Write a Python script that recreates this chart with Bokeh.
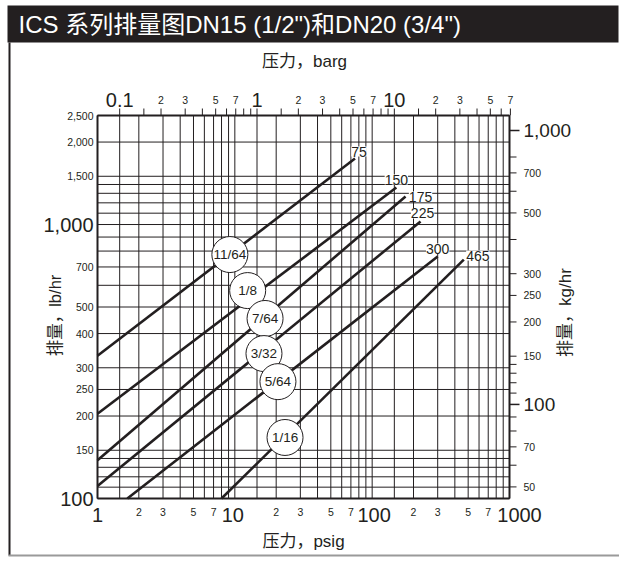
import math
from bokeh.plotting import figure
from bokeh.models import Label, BoxAnnotation, Range1d
from bokeh.embed import file_html
from bokeh.resources import INLINE

# ---------------- texts ----------------
TITLE = 'ICS 系列排量图DN15 (1/2")和DN20 (3/4")'
X_TITLE_TOP = "压力，barg"
X_TITLE_BOTTOM = "压力，psig"
Y_TITLE_LEFT = "排量，lb/hr"
Y_TITLE_RIGHT = "排量，kg/hr"

# ---------------- data ----------------
orifice = ["11/64", "1/8", "7/64", "3/32", "5/64", "1/16"]
max_psig = [75, 150, 175, 225, 300, 465]          # end of each line / label
start_psig = [1, 1, 1, 1, 1.65, 8.0]
start_lbhr = [332, 204, 138, 111, 100, 100]
end_lbhr = [1741, 1365, 1265, 1026, 764, 745]
tag_psig = [9.2, 12.4, 16.6, 16.3, 20.6, 23.2]      # where the orifice tags sit
tag_lbhr = [777, 574, 454, 338, 267, 167]

# axis tick values / labels
psig_label_vals = [1, 2, 3, 5, 7, 10, 20, 30, 50, 70, 100, 200, 300, 500, 700, 1000]
psig_label_txt = ["1", "2", "3", "5", "7", "10", "2", "3", "5", "7", "100", "2", "3", "5", "7", "1000"]
psig_label_big = [True, False, False, False, False, True, False, False, False, False, True,
                  False, False, False, False, True]
barg_label_vals = [0.1, 0.2, 0.3, 0.5, 0.7, 1, 2, 3, 5, 7, 10, 20, 30, 50, 70]
barg_label_txt = ["0.1", "2", "3", "5", "7", "1", "2", "3", "5", "7", "10", "2", "3", "5", "7"]
barg_label_big = [True, False, False, False, False, True, False, False, False, False, True,
                  False, False, False, False]
barg_ticks = [0.1, 0.15, 0.2, 0.3, 0.4, 0.5, 0.6, 0.7, 0.8, 0.9, 1, 1.5, 2, 3, 4, 5, 6, 7, 8, 9,
              10, 15, 20, 30, 40, 50, 60, 70]
lbhr_label_vals = [2500, 2000, 1500, 1000, 700, 500, 400, 300, 250, 200, 150, 100]
lbhr_label_txt = ["2,500", "2,000", "1,500", "1,000", "700", "500", "400", "300", "250", "200", "150", "100"]
lbhr_label_big = [False, False, False, True, False, False, False, False, False, False, False, True]
kghr_label_vals = [1000, 700, 500, 300, 250, 200, 150, 100, 70, 50]
kghr_label_txt = ["1,000", "700", "500", "300", "250", "200", "150", "100", "70", "50"]
kghr_label_big = [True, False, False, False, False, False, False, True, False, False]
kghr_major_ticks = [100, 1000]
kghr_minor_ticks = [50, 60, 70, 80, 90, 110, 120, 130, 140, 150, 200, 250, 300, 400, 500,
                    600, 700, 800]

psig_grid = [1, 2, 3, 4, 5, 6, 7, 8, 9, 10, 20, 30, 40, 50, 60, 70, 80, 90,
             100, 200, 300, 400, 500, 600, 700, 800, 900, 1000]
barg_grid = [0.1, 1, 10]
lbhr_grid = [100, 110, 120, 130, 140, 150, 200, 250, 300, 400, 500, 600, 700, 800, 900,
             1000, 1100, 1200, 1300, 1400, 1500, 2000, 2500]

X_MIN, X_MAX = 1, 1000          # psig
Y_MIN, Y_MAX = 100, 2500        # lb/hr
PSI_PER_BAR = 14.5038
LB_PER_KG = 2.20462

# ---------------- layout / styles ----------------
W, H = 619, 564
PLOT_L, PLOT_R, PLOT_T, PLOT_B = 97, 509, 115, 498     # chart box on the canvas
DEC_X = (PLOT_R - PLOT_L) / math.log10(X_MAX / X_MIN)
DEC_Y = (PLOT_B - PLOT_T) / math.log10(Y_MAX / Y_MIN)
FONT = "Liberation Sans, Noto Sans CJK SC"
INK = "#231f20"
end_dx = [4, 0, 15, 2, 0, 14]
end_dy = [7, 8, 0, 8, 8, 4]
bottom_dx = [0, 0, 0, 0, 0, -2, 0, 0, 0, 0, 2, 0, 0, 0, 0, 10]


def xf(px):   # multiplicative factor for px pixels along x
    return 10 ** (px / DEC_X)


def yf(px):
    return 10 ** (px / DEC_Y)


p = figure(width=W, height=H, x_axis_type="log", y_axis_type="log",
           x_axis_location=None, y_axis_location=None,
           x_range=Range1d(X_MIN / xf(PLOT_L), X_MAX * xf(W - PLOT_R)),
           y_range=Range1d(Y_MIN / yf(H - PLOT_B), Y_MAX * yf(PLOT_T)),
           output_backend="svg", toolbar_location=None,
           min_border=0)
p.background_fill_color = "white"
p.border_fill_color = "white"
p.outline_line_color = None
p.xgrid.visible = False
p.ygrid.visible = False

# grid lines
vx = psig_grid + [b * PSI_PER_BAR for b in barg_grid]
p.segment(x0=vx, y0=[Y_MIN] * len(vx), x1=vx, y1=[Y_MAX] * len(vx),
          line_color=INK, line_width=1)
p.segment(x0=[X_MIN] * len(lbhr_grid), y0=lbhr_grid, x1=[X_MAX] * len(lbhr_grid),
          y1=lbhr_grid, line_color=INK, line_width=1)

# top axis ticks (barg)
tx = [b * PSI_PER_BAR for b in barg_ticks]
p.segment(x0=tx, y0=[Y_MAX] * len(tx), x1=tx, y1=[Y_MAX * yf(7)] * len(tx),
          line_color=INK, line_width=1)
# right axis ticks (kg/hr)
ty = [k * LB_PER_KG for k in kghr_major_ticks]
p.segment(x0=[X_MAX] * len(ty), y0=ty, x1=[X_MAX * xf(10)] * len(ty), y1=ty,
          line_color=INK, line_width=1.5)
ty = [k * LB_PER_KG for k in kghr_minor_ticks]
p.segment(x0=[X_MAX] * len(ty), y0=ty, x1=[X_MAX * xf(7)] * len(ty), y1=ty,
          line_color=INK, line_width=1)

# chart frame
p.segment(x0=[X_MIN, X_MAX, X_MIN, X_MIN], y0=[Y_MIN, Y_MIN, Y_MIN, Y_MAX],
          x1=[X_MIN, X_MAX, X_MAX, X_MAX], y1=[Y_MAX, Y_MAX, Y_MIN, Y_MAX],
          line_color=INK, line_width=2)

# capacity lines
p.multi_line(xs=[[a, b] for a, b in zip(start_psig, max_psig)],
             ys=[[a, b] for a, b in zip(start_lbhr, end_lbhr)],
             line_color=INK, line_width=2.6)

# orifice tags
p.scatter(tag_psig, tag_lbhr, marker="circle", size=36, fill_color="white",
          line_color=INK, line_width=1)


def lab(x, y, text, size, xu="screen", yu="screen", align="center", baseline="middle",
        color=INK, angle=0, dx=0, dy=0, font=FONT, bg=None):
    kw = {}
    if bg:
        kw = dict(background_fill_color=bg, background_fill_alpha=1)
    p.add_layout(Label(x=x, y=y, x_units=xu, y_units=yu, text=text, text_align=align,
                       text_baseline=baseline, text_font=font, text_font_size=size,
                       text_color=color, angle=angle, angle_units="deg",
                       x_offset=dx, y_offset=dy, **kw))


for xv, yv, t in zip(tag_psig, tag_lbhr, orifice):
    lab(xv, yv, t, "13.5px", xu="data", yu="data")

# max pressure labels at line ends
for xv, yv, dx, dy in zip(max_psig, end_lbhr, end_dx, end_dy):
    lab(xv, yv, str(xv), "14px", xu="data", yu="data", dx=dx, dy=dy, bg="white")

# screen coordinates: x from canvas left, y from canvas bottom
# bottom (psig)
for v, t, big, dx in zip(psig_label_vals, psig_label_txt, psig_label_big, bottom_dx):
    lab(v, H - 507, t, "20px" if big else "10.5px", xu="data", baseline="top", dx=dx)
# top (barg)
for v, t, big in zip(barg_label_vals, barg_label_txt, barg_label_big):
    lab(v * PSI_PER_BAR, H - 99.5, t, "20px" if big else "10.5px", xu="data",
        baseline="alphabetic")
# left (lb/hr)
for v, t, big in zip(lbhr_label_vals, lbhr_label_txt, lbhr_label_big):
    lab(PLOT_L - 4, v, t, "20px" if big else "10.5px", yu="data", align="right")
# right (kg/hr)
for v, t, big in zip(kghr_label_vals, kghr_label_txt, kghr_label_big):
    lab(PLOT_R + 14, v * LB_PER_KG, t, "19px" if big else "10.5px", yu="data",
        align="left")

# axis titles
lab(304, H - 61, X_TITLE_TOP, "17px")
lab(303, H - 541, X_TITLE_BOTTOM, "17px")
lab(54, H - 315, Y_TITLE_LEFT, "16.5px", angle=90)
lab(565, H - 312, Y_TITLE_RIGHT, "17px", angle=90)


# title bar and page frame lines
def box(l, r, b, t, color):
    p.add_layout(BoxAnnotation(left=l, right=r, bottom=b, top=t,
                               left_units="screen", right_units="screen",
                               bottom_units="screen", top_units="screen",
                               fill_color=color, fill_alpha=1, line_alpha=0))


box(7, 618, H - 42, H - 5, INK)
box(8, 10, H - 555, H - 42, INK)
box(8, 619, H - 556, H - 554, "#9a9a9a")
lab(18, H - 24, TITLE, "24px", color="white", align="left")

open("out.html", "w").write(file_html(p, INLINE))
